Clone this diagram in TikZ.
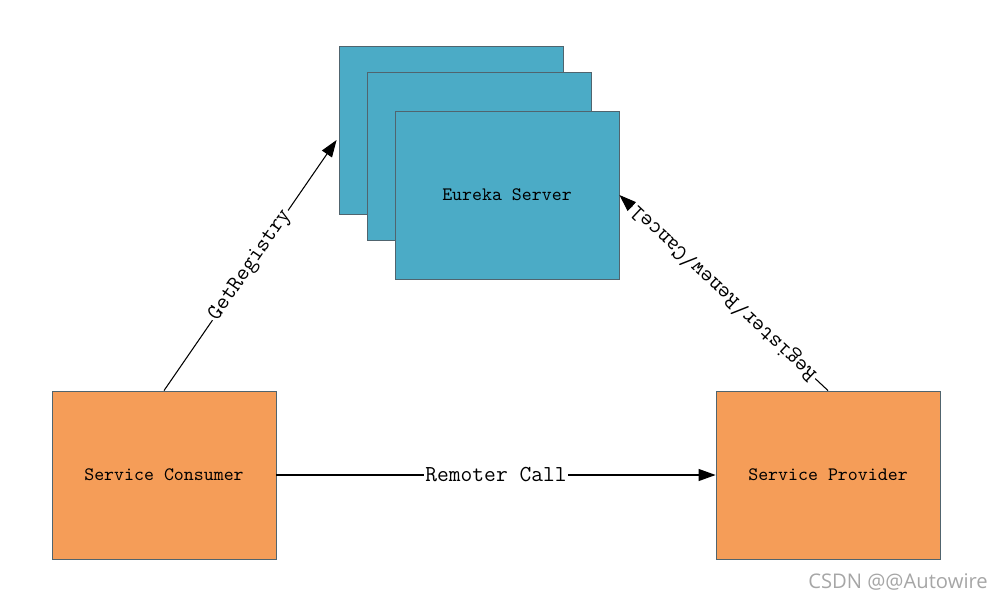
\documentclass[tikz,border=0pt]{standalone}
\usepackage{fontspec}
\setmainfont{Liberation Serif}
\newfontfamily\markfont{Open Sans}
\usetikzlibrary{arrows.meta}

\definecolor{eurekablau}{RGB}{75,171,198}
\definecolor{dienstorange}{RGB}{245,157,88}
\definecolor{randgrau}{RGB}{80,100,110}

\tikzset{
    kasten/.style={draw=randgrau, line width=0.5pt, minimum width=4.48cm, minimum height=3.36cm, inner sep=0pt, font=\ttfamily\fontsize{10.8}{12}\selectfont},
    pfeil/.style={-{Triangle[length=0.34cm,width=0.24cm]}, line width=0.6pt},
    beschriftung/.style={fill=white, inner sep=1pt, font=\ttfamily\fontsize{13}{15}\selectfont}
}

\begin{document}
\begin{tikzpicture}[x=0.02cm,y=-0.02cm]
        \useasboundingbox (0,0) rectangle (999,601);

        % Eureka Server, drei Kaesten hintereinander
        \node [kasten, fill=eurekablau] (server3) at (451,130) {};
        \node [kasten, fill=eurekablau] (server2) at (479,156) {};
        \node [kasten, fill=eurekablau] (server1) at (507,195) {Eureka Server};

        % Dienste
        \node [kasten, fill=dienstorange] (consumer) at (164,475) {Service Consumer};
        \node [kasten, fill=dienstorange] (provider) at (828,475) {Service Provider};

        % Verbindungen
        \draw [pfeil] (consumer.north) -- ([xshift=-0.04cm,yshift=-0.2cm]server3.west)
            node [beschriftung, midway, sloped] (getreg) {GetRegistry};
        \draw [pfeil] (provider.north) -- (server1.east)
            node [beschriftung, midway, sloped, allow upside down] (register) {Register/Renew/Cancel};
        \draw [pfeil] (consumer.east) -- (provider.west)
            node [beschriftung, midway] (remote) {Remoter Call};

        \node [text=gray!70, font=\markfont\fontsize{11.5}{13}\selectfont] (wasserzeichen) at (898,582) {CSDN @@Autowire};
\end{tikzpicture}
\end{document}
